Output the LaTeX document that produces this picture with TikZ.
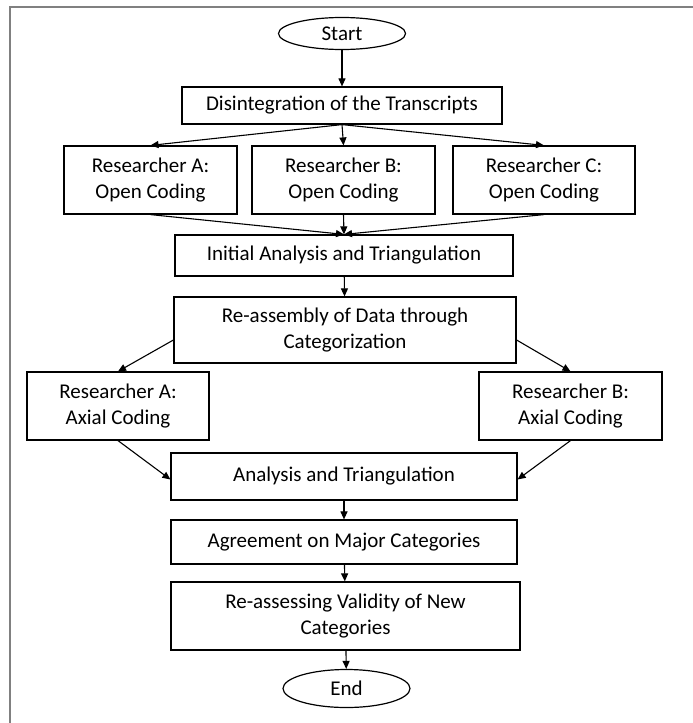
\documentclass[tikz,border=0pt]{standalone}
\usepackage{fontspec}
\setmainfont{Carlito}
\usetikzlibrary{arrows.meta,shapes.geometric}
\tikzset{
  passo/.style={draw,line width=1.2pt,align=center,inner sep=2pt,
    minimum height=#1,font=\fontsize{21}{26}\selectfont},
  passo/.default=38pt,
  termine/.style={draw,ellipse,line width=1.2pt,minimum width=127pt,
    font=\fontsize{21}{26}\selectfont},
  freccia/.style={->,line width=1.1pt}
}
\begin{document}
\begin{tikzpicture}[x=1pt,y=-1pt,>={Triangle[length=8pt,width=7pt]}]
        \useasboundingbox (0,0) rectangle (693,723);
        % cornice grigia
        \draw[gray,line width=2pt] (10,723) -- (10,7) -- (693,7);
        \node[termine,minimum height=32pt] (start) at (342,33.5) {Start};
        \node[passo=37pt,minimum width=320pt] (disint) at (342,105.5) {Disintegration of the Transcripts};
        % codifica aperta dei tre ricercatori
        \node[passo=68pt,minimum width=173pt] (openA) at (150.5,180) {Researcher A:\\Open Coding};
        \node[passo=68pt,minimum width=183pt] (openB) at (343.5,180) {Researcher B:\\Open Coding};
        \node[passo=68pt,minimum width=182pt] (openC) at (544,180) {Researcher C:\\Open Coding};
        \node[passo=41pt,minimum width=338pt] (initial) at (344,255.5) {Initial Analysis and Triangulation};
        \node[passo=66pt,minimum width=342pt] (reasm) at (345,330) {Re-assembly of Data through\\Categorization};
        % codifica assiale
        \node[passo=68pt,minimum width=182pt] (axialA) at (118,406) {Researcher A:\\Axial Coding};
        \node[passo=68pt,minimum width=183pt] (axialB) at (570.5,406) {Researcher B:\\Axial Coding};
        \node[passo=47pt,minimum width=346pt] (analysis) at (344,476.5) {Analysis and Triangulation};
        \node[passo=44pt,minimum width=346pt] (agree) at (344,542) {Agreement on Major Categories};
        \node[passo=68pt,minimum width=349pt] (reassess) at (345.5,616) {Re-assessing Validity of New\\Categories};
        \node[termine,minimum height=38pt] (end) at (346.5,688.5) {End};
        % frecce
        \draw[freccia] (start) -- (disint);
        \draw[freccia] (disint.south) -- (openA.north);
        \draw[freccia] (disint.south) -- (openB.north);
        \draw[freccia] (disint.south) -- (openC.north);
        \draw[freccia] (openA.south) -- (initial.north);
        \draw[freccia] (openB.south) -- (initial.north);
        \draw[freccia] (openC.south) -- (initial.north);
        \draw[freccia] (initial) -- (reasm);
        \draw[freccia] ([yshift=-10pt]reasm.west) -- (axialA.north);
        \draw[freccia] ([yshift=-10pt]reasm.east) -- (axialB.north);
        \draw[freccia] (axialA.south) -- ([yshift=-3pt]analysis.west);
        \draw[freccia] (axialB.south) -- ([yshift=-3pt]analysis.east);
        \draw[freccia] (analysis) -- (agree);
        \draw[freccia] (agree) -- (reassess);
        \draw[freccia] (reassess) -- (end);
\end{tikzpicture}
\end{document}
